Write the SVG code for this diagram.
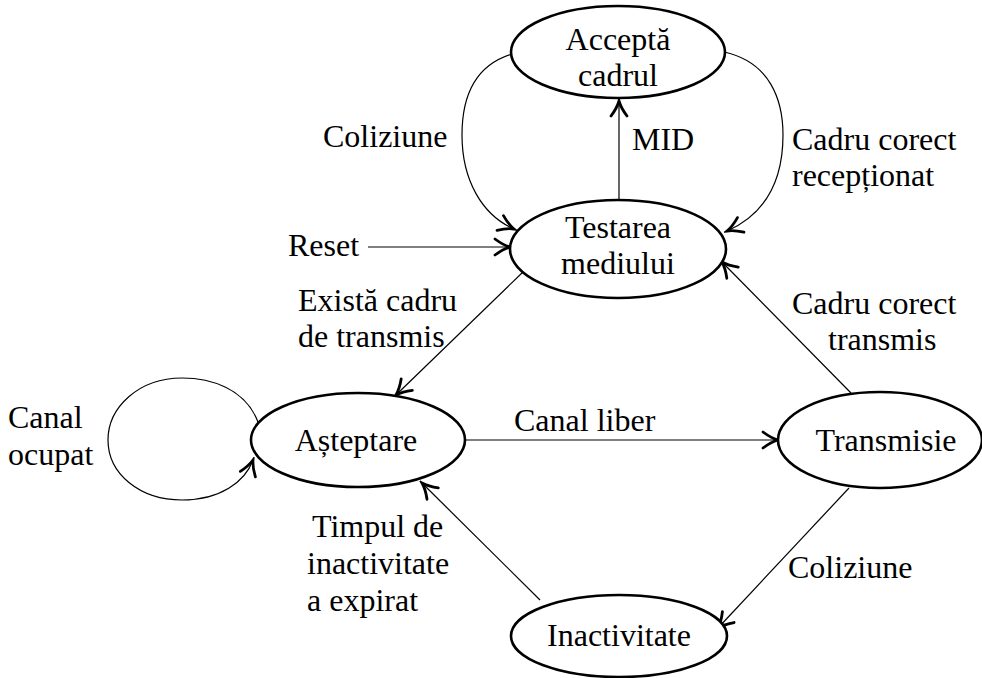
<svg xmlns="http://www.w3.org/2000/svg" width="982" height="678" viewBox="0 0 982 678">
<defs>
<style>
.node{fill:#fff;stroke:#000;stroke-width:2.6}
.edge{fill:none;stroke:#000;stroke-width:1.2}
.c{text-anchor:middle}
</style>
<marker id="arr" markerUnits="userSpaceOnUse" markerWidth="20" markerHeight="20" refX="17" refY="9" orient="auto" viewBox="0 0 20 18">
<path d="M2,1 Q10,7 17,9 Q10,11 2,17" fill="none" stroke="#000" stroke-width="2.8" stroke-linecap="round"/>
</marker>
</defs>
<rect width="982" height="678" fill="#fff"/>
<g id="edges">
<path class="edge" d="M520,52 C472,62 462,100 462,135 C462,180 482,215 514,229" marker-end="url(#arr)"/>
<path class="edge" d="M724,52 C770,62 783,100 783,135 C783,185 763,215 727,231" marker-end="url(#arr)"/>
<path class="edge" d="M619,200 L619,101" marker-end="url(#arr)"/>
<path class="edge" d="M368,247 L510,247" marker-end="url(#arr)"/>
<path class="edge" d="M524,271 L396,395" marker-end="url(#arr)"/>
<path class="edge" d="M851,393 L722,262" marker-end="url(#arr)"/>
<path class="edge" d="M465,440 L778,440" marker-end="url(#arr)"/>
<path class="edge" d="M849,488 L718,628" marker-end="url(#arr)"/>
<path class="edge" d="M540,600 L422,483" marker-end="url(#arr)"/>
<path class="edge" d="M258,422 C245,388 210,378 182,378 C138,378 108,408 108,440 C108,474 140,500 182,500 C220,500 245,482 253,460" marker-end="url(#arr)"/>
</g>
<g font-family="Liberation Serif, DejaVu Serif, serif" font-size="32" fill="#000">
<g id="n-accepta">
<ellipse class="node" cx="618" cy="52" rx="107" ry="46"/>
<text class="c" x="618" y="50">Acceptă</text>
<text class="c" x="618" y="86">cadrul</text>
</g>
<g id="n-testarea">
<ellipse class="node" cx="618" cy="249" rx="108" ry="49"/>
<text class="c" x="618" y="238">Testarea</text>
<text class="c" x="618" y="274">mediului</text>
</g>
<g id="n-asteptare">
<ellipse class="node" cx="358" cy="440" rx="107" ry="47"/>
<text class="c" x="356" y="451">Așteptare</text>
</g>
<g id="n-transmisie">
<ellipse class="node" cx="880" cy="440" rx="102" ry="48"/>
<text class="c" x="886" y="451">Transmisie</text>
</g>
<g id="n-inactivitate">
<ellipse class="node" cx="619" cy="636" rx="108" ry="41"/>
<text class="c" x="619" y="646">Inactivitate</text>
</g>
<g id="labels">
<text x="323" y="147">Coliziune</text>
<text x="632" y="150">MID</text>
<text x="792" y="150">Cadru corect</text>
<text x="792" y="186">recepționat</text>
<text x="288" y="256">Reset</text>
<text x="298" y="311">Există cadru</text>
<text x="298" y="347">de transmis</text>
<text x="792" y="314">Cadru corect</text>
<text x="828" y="350">transmis</text>
<text x="8" y="428">Canal</text>
<text x="8" y="465">ocupat</text>
<text x="514" y="431">Canal liber</text>
<text x="312" y="537">Timpul de</text>
<text x="307" y="574">inactivitate</text>
<text x="307" y="611">a expirat</text>
<text x="788" y="578">Coliziune</text>
</g>
</g>
</svg>
